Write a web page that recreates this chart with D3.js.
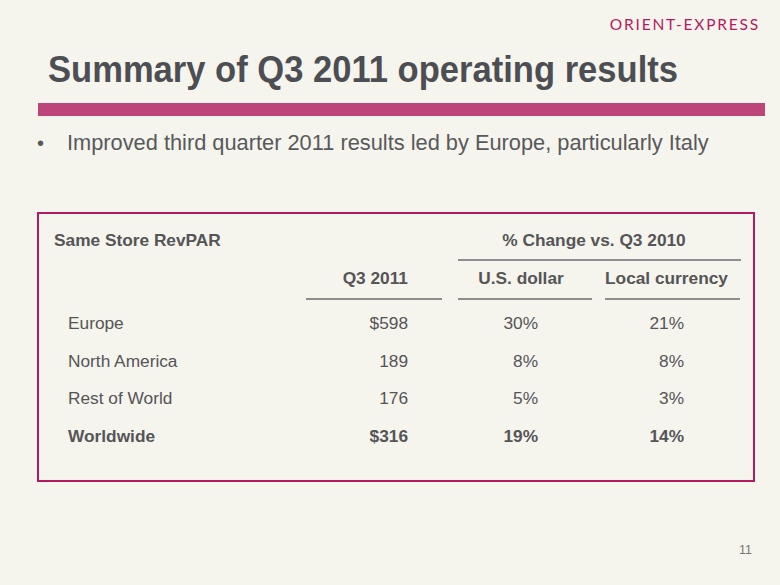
<!DOCTYPE html>
<html><head><meta charset="utf-8">
<script src="https://cdn.jsdelivr.net/npm/d3@7"></script>
<style>html,body{margin:0;padding:0;background:#f5f4ed;}svg{display:block;font-family:"Liberation Sans",Arial,sans-serif;}</style>
</head><body>
<script>
const regions = ["Europe", "North America", "Rest of World", "Worldwide"];
const q3_2011 = ["$598", "189", "176", "$316"];
const usDollar = ["30%", "8%", "5%", "19%"];
const localCurrency = ["21%", "8%", "3%", "14%"];
const boldRow = [false, false, false, true];
const columns = ["Q3 2011", "U.S. dollar", "Local currency"];

const W = 780, H = 585;
const svg = d3.select("body").append("svg").attr("width", W).attr("height", H);
svg.append("rect").attr("width", W).attr("height", H).attr("fill", "#f5f4ed");

// logo
svg.append("text").attr("x", 760).attr("y", 30).attr("text-anchor", "end")
  .attr("font-family", "Lato, 'DejaVu Sans', sans-serif").attr("font-size", 15.5)
  .attr("letter-spacing", 1.8).attr("fill", "#b5195f").text("ORIENT-EXPRESS");

// title
svg.append("text").attr("x", 48).attr("y", 82).attr("font-size", 37).attr("font-weight", "bold")
  .attr("textLength", 630).attr("lengthAdjust", "spacingAndGlyphs")
  .attr("fill", "#4d4e53").text("Summary of Q3 2011 operating results");

svg.append("rect").attr("x", 38).attr("y", 103).attr("width", 727).attr("height", 13).attr("fill", "#be4579");

// bullet
svg.append("text").attr("x", 37).attr("y", 150).attr("font-size", 20).attr("fill", "#58595b").text("•");
svg.append("text").attr("x", 67).attr("y", 150).attr("font-size", 21.8).attr("fill", "#58595b")
  .text("Improved third quarter 2011 results led by Europe, particularly Italy");

// table box
svg.append("rect").attr("x", 38).attr("y", 213).attr("width", 716).attr("height", 268)
  .attr("fill", "none").attr("stroke", "#b5195f").attr("stroke-width", 2);

const txt = "#555558";
const hdr = 17.3;
svg.append("text").attr("x", 54).attr("y", 246).attr("font-size", hdr).attr("font-weight", "bold")
  .attr("fill", txt).text("Same Store RevPAR");
svg.append("text").attr("x", 594).attr("y", 246).attr("text-anchor", "middle").attr("font-size", hdr)
  .attr("font-weight", "bold").attr("fill", txt).text("% Change vs. Q3 2010");
svg.append("line").attr("x1", 458).attr("x2", 741).attr("y1", 260).attr("y2", 260)
  .attr("stroke", "#6d6d6f").attr("stroke-width", 1.5);

const colRight = [408, 538, 684];
const colRule = [[306, 442], [458, 592], [605, 740]];
const colCenter = colRule.map(r => (r[0] + r[1]) / 2);
columns.forEach((c, i) => {
  svg.append("text").attr("x", i === 0 ? colRight[0] : colCenter[i] + (i === 2 ? -6 : -4)).attr("y", 284)
    .attr("text-anchor", i === 0 ? "end" : "middle").attr("font-size", hdr).attr("font-weight", "bold")
    .attr("fill", txt).text(c);
  svg.append("line").attr("x1", colRule[i][0]).attr("x2", colRule[i][1]).attr("y1", 299).attr("y2", 299)
    .attr("stroke", "#6d6d6f").attr("stroke-width", 1.5);
});

const y = d3.scalePoint().domain(regions).range([329, 442]);
const rows = svg.append("g").selectAll("g").data(regions).join("g")
  .attr("transform", d => `translate(0,${y(d)})`)
  .attr("font-size", 17.3).attr("fill", txt)
  .attr("font-weight", (d, i) => boldRow[i] ? "bold" : "normal");
rows.append("text").attr("x", 68).text(d => d);
const vals = [q3_2011, usDollar, localCurrency];
vals.forEach((arr, ci) => {
  rows.append("text").attr("x", colRight[ci]).attr("text-anchor", "end").text((d, i) => arr[i]);
});

svg.append("text").attr("x", 752).attr("y", 554).attr("text-anchor", "end").attr("font-size", 12.5)
  .attr("fill", "#777777").text("11");
</script>
</body></html>
